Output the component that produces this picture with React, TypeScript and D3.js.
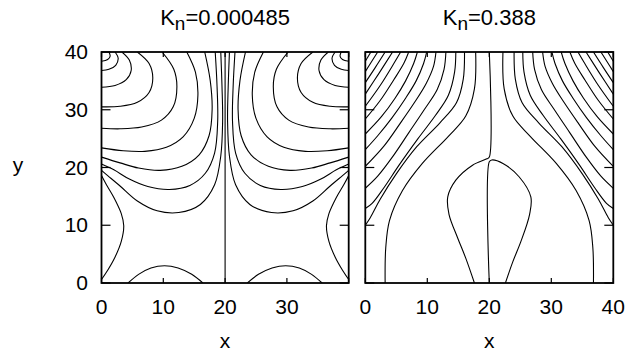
import * as d3 from "d3";

// axis ticks
const xTicks = [0, 10, 20, 30, 40];
const yTicks = [0, 10, 20, 30, 40];

// Kn = 0.000485: contours of the left half (x 0..20), drawn again mirrored about x = 20
const lowKnHalf: [number, number][][] = [
  [[1.2, 40], [1.4, 39.3], [1.0, 38.7], [0, 38.4]],
  [[2.2, 40], [2.7, 38.9], [2.3, 37.7], [1.2, 37.0], [0, 36.8]],
  [[3.3, 40], [4.5, 38.6], [4.8, 36.8], [4.0, 35.2], [2.2, 34.2], [0, 33.9]],
  [[5.8, 40], [7.7, 38], [8.3, 35.5], [7.7, 33], [5.8, 31.3], [3, 30.6], [0, 30.5]],
  [[9.8, 40], [11.7, 37], [12.2, 34], [11.6, 30.5], [9.7, 28.2], [6.5, 27], [3, 26.7], [0, 26.8]],
  [[13.8, 40], [15.2, 36.5], [15.6, 32.5], [15, 28.5], [13.2, 25.3], [10.5, 23.5], [7, 22.8], [3.5, 22.9], [0, 23.4]],
  [[16.7, 40], [17.6, 35], [17.9, 30], [17.4, 25.5], [15.8, 22.2], [13, 20.2], [9.5, 19.5], [6, 19.9], [3, 20.8], [0, 21.8]],
  [[18.4, 40], [18.7, 34], [18.8, 28], [18.3, 22.5], [16.8, 19], [14.3, 16.9], [11, 16.2], [7.5, 16.7], [4.5, 18.0], [2, 19.6], [0, 20.6]],
  [[19.3, 40], [19.5, 34], [19.6, 28], [19.3, 22], [18.3, 17], [16, 13.6], [12.5, 12.2], [9, 12.5], [5.8, 14.2], [3, 16.8], [1, 18.6], [0, 19.5]],
  [[0, 18.6], [0.8, 17], [2, 14.8], [3.2, 12], [3.6, 9.9], [3.2, 7.2], [2.2, 4.5], [1.0, 2.2], [0, 0.6]],
  [[4.3, 0], [6, 1.5], [8, 2.6], [10.2, 3.0], [12.4, 2.6], [14.6, 1.5], [16.4, 0]],
];
const lowKnCenter: [number, number][][] = [
  [[20, 0], [20, 40]],
];

// Kn = 0.388
const highKnHalf: [number, number][][] = [
  [[0.9, 40], [0, 38.4]],
  [[2.0, 40], [1.0, 38.3], [0, 36.6]],
  [[3.2, 40], [1.6, 37.3], [0, 34.7]],
  [[4.4, 40], [2.2, 36.3], [0, 32.7]],
  [[5.7, 40], [4.6, 38], [2.4, 34.2], [0, 30.6]],
  [[7.0, 40], [6.2, 38], [4.6, 35.2], [2.4, 31.6], [0, 28.4]],
  [[8.4, 40], [7.8, 38], [6.5, 35], [4.8, 32], [2.6, 28.8], [0, 25.8]],
  [[9.9, 40], [9.4, 38], [8.2, 35], [6.5, 32], [4.3, 28.6], [2, 25.5], [0, 23.1]],
  [[11.4, 40], [11.0, 37.5], [9.8, 34.5], [7.9, 31.2], [5.6, 27.6], [3, 23.7], [0, 20.2]],
  [[13.0, 40], [12.7, 37], [11.6, 33.5], [9.5, 30], [7, 26], [4.3, 21.7], [2, 18.5], [0, 16.4]],
  [[14.6, 40], [14.4, 36.5], [13.4, 32.5], [11.3, 29], [8.5, 25], [5.5, 20.5], [3, 16.5], [1.1, 13.8], [0, 12.9]],
  [[16.0, 40], [15.8, 35.3], [14.7, 31.2], [12, 27.7], [8.3, 23.6], [5, 18.9], [2.4, 14.5], [0.8, 11.3], [0, 10.0]],
  [[17.8, 40], [17.6, 33.6], [16.2, 28.9], [13.4, 25.4], [9.2, 20.7], [6.0, 16.0], [3.9, 10.8], [3.3, 6.1], [3.2, 0]],
];
const highKnCenter: [number, number][][] = [
  [[20, 40], [20, 21.8], [19.6, 21.5], [17.3, 20.4], [14.6, 17.8], [13.3, 14.9], [13.5, 11.9], [14.9, 7.8], [16.2, 4.3], [17.6, 0]],
  [[20, 0], [20, 21], [20.4, 21.3], [22.2, 20.7], [24.8, 18.4], [26.7, 14.9], [26.5, 11.9], [25.1, 7.2], [23.8, 3.7], [22.6, 0]],
];

const W = 634;
const H = 351;
const top = 52;
const bottom = 283;
const font = "'Liberation Sans', Arial, sans-serif";

const panels = [
  { key: "a", kn: "0.000485", left: 101.5, right: 348.7, half: lowKnHalf, center: lowKnCenter, labels: [0, 10, 20, 30] },
  { key: "b", kn: "0.388", left: 365.3, right: 613.3, half: highKnHalf, center: highKnCenter, labels: [0, 10, 20, 30, 40] },
];

function Panel({ p, showY }: { p: typeof panels[number]; showY: boolean }) {
  const x = d3.scaleLinear().domain([0, 40]).range([p.left, p.right]);
  const xm = d3.scaleLinear().domain([0, 40]).range([p.right, p.left]);
  const y = d3.scaleLinear().domain([0, 40]).range([bottom, top]);
  const line = d3.line<[number, number]>().x(d => x(d[0])).y(d => y(d[1])).curve(d3.curveCatmullRom);
  const lineM = d3.line<[number, number]>().x(d => xm(d[0])).y(d => y(d[1])).curve(d3.curveCatmullRom);
  const cx = (p.left + p.right) / 2;
  return (
    <g>
      <defs>
        <clipPath id={"clip-" + p.key}>
          <rect x={p.left} y={top} width={p.right - p.left} height={bottom - top} />
        </clipPath>
      </defs>
      <g clipPath={`url(#clip-${p.key})`} fill="none" stroke="#000" strokeWidth={1.1}>
        {p.half.map((c, i) => <path key={"l" + i} d={line(c) || ""} />)}
        {p.half.map((c, i) => <path key={"m" + i} d={lineM(c) || ""} />)}
        {p.center.map((c, i) => <path key={"c" + i} d={line(c) || ""} />)}
      </g>
      <g stroke="#000" strokeWidth={1.2}>
        {xTicks.map(t => (
          <g key={"xt" + t}>
            <line x1={x(t)} x2={x(t)} y1={bottom} y2={bottom - 5} />
            <line x1={x(t)} x2={x(t)} y1={top} y2={top + 5} />
          </g>
        ))}
        {yTicks.map(t => (
          <g key={"yt" + t}>
            <line x1={p.left} x2={p.left + 9} y1={y(t)} y2={y(t)} />
            <line x1={p.right} x2={p.right - 9} y1={y(t)} y2={y(t)} />
          </g>
        ))}
      </g>
      <rect x={p.left} y={top} width={p.right - p.left} height={bottom - top} fill="none" stroke="#000" strokeWidth={1.8} />
      <g fontFamily={font} fontSize={21} fill="#000">
        {p.labels.map(t => (
          <text key={"xl" + t} x={x(t)} y={314} textAnchor="middle">{t}</text>
        ))}
        <text x={cx} y={348} textAnchor="middle">x</text>
        {showY && yTicks.map(t => (
          <text key={"yl" + t} x={88} y={y(t) + 7} textAnchor="end">{t}</text>
        ))}
      </g>
      <text x={cx} y={25} textAnchor="middle" fontFamily={font} fontSize={22}>
        <tspan>K</tspan>
        <tspan fontSize={19} dy={5}>n</tspan>
        <tspan dy={-5}>={p.kn}</tspan>
      </text>
    </g>
  );
}

export default function App() {
  return (
    <svg width={W} height={H} style={{ position: "absolute", left: 0, top: 0, background: "#fff" }}>
      <rect width={W} height={H} fill="#fff" />
      {panels.map((p, i) => <Panel key={p.key} p={p} showY={i === 0} />)}
      <text x={18} y={172} textAnchor="middle" fontFamily={font} fontSize={21}>y</text>
    </svg>
  );
}
